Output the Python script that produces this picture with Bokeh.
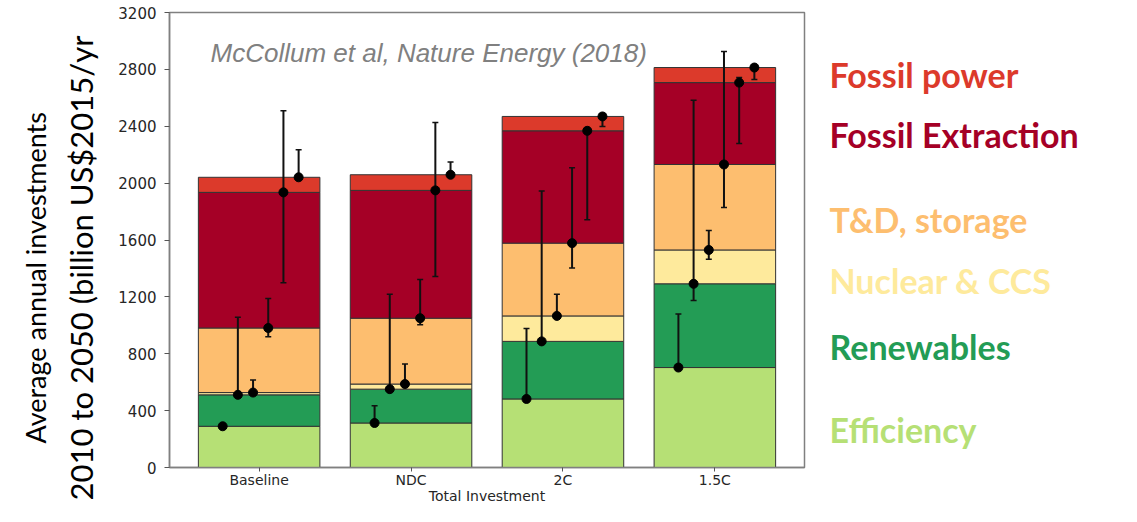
import math
import numpy as np
from bokeh.plotting import figure
from bokeh.layouts import row
from bokeh.models import (Range1d, FixedTicker, Label, ColumnDataSource, Whisker, TeeHead, Title)
from bokeh.core.properties import value
from bokeh.embed import file_html
from bokeh.resources import INLINE

# ---------------- data ----------------
scenarios = ["Baseline", "NDC", "2C", "1.5C"]
series = ["Efficiency", "Renewables", "Nuclear & CCS", "T&D, storage", "Fossil Extraction", "Fossil power"]
legend_labels = ["Fossil power", "Fossil Extraction", "T&D, storage", "Nuclear & CCS", "Renewables", "Efficiency"]
colors = {
    "Efficiency": "#b6e075",
    "Renewables": "#239c55",
    "Nuclear & CCS": "#feea9c",
    "T&D, storage": "#fdbe6f",
    "Fossil Extraction": "#a50026",
    "Fossil power": "#dc3a2b",
}
# stacked segment values (billion US$2015/yr), per scenario
efficiency = [290, 313, 482, 703]
renewables = [221, 238, 405, 589]
nuclear_ccs = [16, 36, 179, 238]
td_storage = [454, 463, 512, 601]
fossil_extraction = [954, 899, 790, 576]
fossil_power = [106, 110, 101, 106]

# error-bar ranges (low, high) of the cumulative values
err_low = {
    "Efficiency": [290, 313, 482, 703],
    "Renewables": [511, 551, 887, 1175],
    "Nuclear & CCS": [527, 587, 1066, 1465],
    "T&D, storage": [919, 1004, 1403, 1829],
    "Fossil Extraction": [1299, 1343, 1742, 2278],
    "Fossil power": [2041, 2059, 2398, 2728],
}
err_high = {
    "Efficiency": [290, 435, 977, 1080],
    "Renewables": [1057, 1218, 1944, 2583],
    "Nuclear & CCS": [615, 728, 1218, 1666],
    "T&D, storage": [1189, 1322, 2108, 2925],
    "Fossil Extraction": [2509, 2426, 2368, 2743],
    "Fossil power": [2234, 2149, 2490, 2820],
}
y_ticks = [0, 400, 800, 1200, 1600, 2000, 2400, 2800, 3200]

# ---------------- main figure ----------------
W, H = 1121, 506
W1 = 806
p = figure(width=W1, height=H, output_backend="svg", toolbar_location=None,
           x_range=Range1d(-0.59, 3.59), y_range=Range1d(0, 3200),
           min_border_left=169, min_border_right=2, min_border_top=12, min_border_bottom=30)
p.background_fill_color = "white"
p.border_fill_color = "white"
p.outline_line_color = "#808080"
p.outline_line_width = 1.5
p.xgrid.visible = False
p.ygrid.visible = False

xs = list(range(len(scenarios)))
data = {"x": xs}
seg_vals = [efficiency, renewables, nuclear_ccs, td_storage, fossil_extraction, fossil_power]
for name, vals in zip(series, seg_vals):
    data[name] = vals
src = ColumnDataSource(data)
p.vbar_stack(series, x="x", width=0.8, source=src,
             color=[colors[s] for s in series], line_color="#333333", line_width=1)

# error bars and dots at cumulative tops
cum = np.cumsum(np.array(seg_vals), axis=0)
for j, name in enumerate(series):
    bx = [i - 0.24 + 0.1 * j for i in xs]
    esrc = ColumnDataSource(dict(base=bx, lower=err_low[name], upper=err_high[name], top=list(cum[j])))
    p.add_layout(Whisker(source=esrc, base="base", lower="lower", upper="upper", dimension="height",
                         line_color="#111111", line_width=2, level="annotation",
                         upper_head=TeeHead(size=6, line_color="#111111", line_width=1.5),
                         lower_head=TeeHead(size=6, line_color="#111111", line_width=1.5)))
    r = p.scatter(x="base", y="top", source=esrc, size=9, color="#000000")
    r.level = "overlay"

# axes
for ax in (p.xaxis[0], p.yaxis[0]):
    ax.axis_line_color = "#808080"
    ax.axis_line_width = 1.5
    ax.major_tick_line_color = "#555555"
    ax.major_tick_out = 5
    ax.major_tick_in = 0
    ax.minor_tick_line_color = None
    ax.major_label_text_font = "DejaVu Sans"
    ax.major_label_text_font_size = "15px"
    ax.major_label_text_color = "#262626"
p.xaxis.ticker = FixedTicker(ticks=xs)
p.xaxis.major_label_overrides = {i: s for i, s in enumerate(scenarios)}
p.xaxis.major_label_text_font_size = "14px"
p.xaxis.major_tick_out = 4
p.xaxis.major_label_standoff = 0
p.xaxis.axis_label = "Total Investment"
p.xaxis.axis_label_text_font = "DejaVu Sans"
p.xaxis.axis_label_text_font_size = "14px"
p.xaxis.axis_label_text_font_style = "normal"
p.xaxis.axis_label_text_color = "#262626"
p.xaxis.axis_label_standoff = -3
p.yaxis.ticker = FixedTicker(ticks=y_ticks)
p.yaxis.major_label_standoff = 8

# y axis title (two lines, rotated) as left-side titles
p.add_layout(Title(text="2010 to 2050 (billion US$2015/yr", align="left", text_font="Lato",
                   text_font_size="31px", text_font_style="normal", text_color="#000000",
                   standoff=31, offset=-33), "left")
p.add_layout(Title(text="Average annual investments", align="left", text_font="Lato",
                   text_font_size="27px", text_font_style="normal", text_color="#000000",
                   standoff=-14, offset=24), "left")

# citation
p.add_layout(Label(x=210, y=52, x_units="canvas", y_units="canvas", text="McCollum et al, Nature Energy (2018)",
                   text_font="Liberation Sans", text_font_style="italic",
                   text_font_size="26px", text_color="#808080", text_baseline="alphabetic"))

# ---------------- right-hand legend texts ----------------
W2 = W - W1
p2 = figure(width=W2, height=H, output_backend="svg", toolbar_location=None,
            x_range=Range1d(0, W2), y_range=p.y_range,
            x_axis_location=None, y_axis_location=None,
            min_border_left=0, min_border_right=0, min_border_top=12, min_border_bottom=30)
p2.outline_line_color = None
p2.xgrid.visible = False
p2.ygrid.visible = False
legend_y = [2764, 2342, 1745, 1316, 851, 268]
lsrc = ColumnDataSource(dict(x=[23] * len(legend_labels), y=legend_y, text=legend_labels,
                             color=[colors[l] for l in legend_labels]))
p2.text(x="x", y="y", text="text", source=lsrc, text_color="color",
        text_font=value("Lato"), text_font_style="bold", text_font_size=value("34px"),
        text_baseline="alphabetic", text_align="left")

layout = row(p, p2)
open("out.html", "w").write(file_html(layout, INLINE))
